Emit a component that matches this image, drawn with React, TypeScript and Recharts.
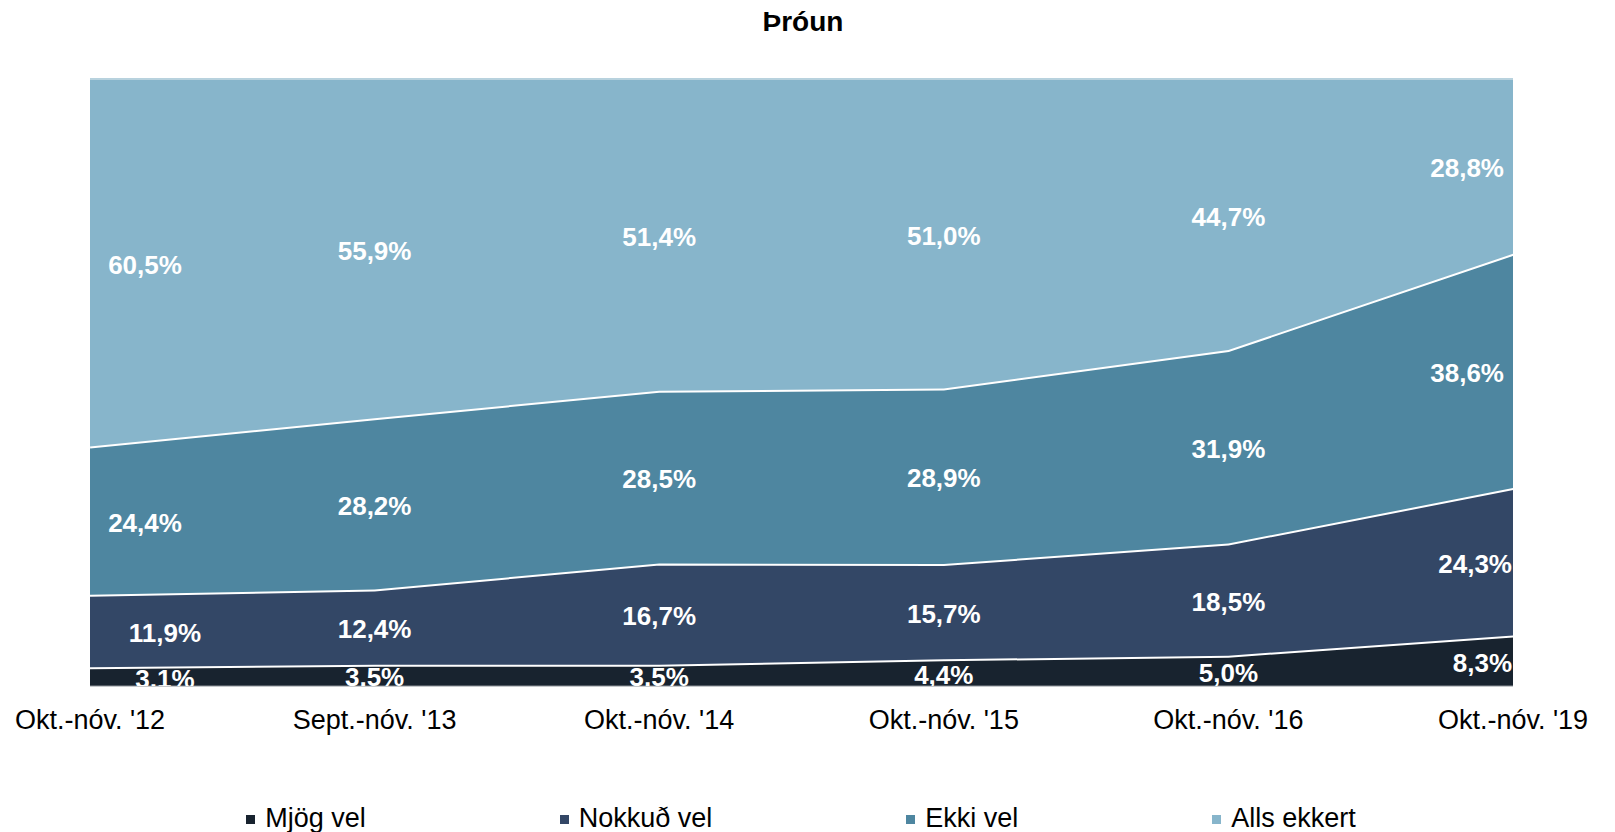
import { AreaChart, Area, XAxis, YAxis } from 'recharts';

// periods and shares (%) per answer
const periods = ["Okt.-nóv. '12", "Sept.-nóv. '13", "Okt.-nóv. '14", "Okt.-nóv. '15", "Okt.-nóv. '16", "Okt.-nóv. '19"];
const mjogVel = [3.1, 3.5, 3.5, 4.4, 5.0, 8.3];
const nokkudVel = [11.9, 12.4, 16.7, 15.7, 18.5, 24.3];
const ekkiVel = [24.4, 28.2, 28.5, 28.9, 31.9, 38.6];
const allsEkkert = [60.5, 55.9, 51.4, 51.0, 44.7, 28.8];

const seriesNames = ['Mjög vel', 'Nokkuð vel', 'Ekki vel', 'Alls ekkert'];
const seriesColors = ['#18232F', '#334766', '#4E86A0', '#87B5CB'];
const seriesValues = [mjogVel, nokkudVel, ekkiVel, allsEkkert];
const seriesKeys = ['mjog', 'nokkud', 'ekki', 'alls'];

const data = periods.map((p, i) => ({
  period: p,
  mjog: mjogVel[i],
  nokkud: nokkudVel[i],
  ekki: ekkiVel[i],
  alls: allsEkkert[i],
}));

const W = 1615;
const H = 832;
const PLOT = { left: 90, top: 79, right: 1513, bottom: 686 };
const PLOT_H = PLOT.bottom - PLOT.top;
const AXIS_H = 40;
const FONT = '"Liberation Sans", Arial, sans-serif';

const fmt = (v: number) => v.toFixed(1).replace('.', ',') + '%';

const totalAt = (i: number) => seriesValues.reduce((s, arr) => s + arr[i], 0);

function makeLabel(s: number) {
  return (props: any) => {
    const index: number = props.index;
    const x: number = props.x ?? props.viewBox?.x;
    const y: number = props.y ?? props.viewBox?.y;
    if (x == null || y == null || index == null) return null;
    const v = seriesValues[s][index];
    const h = (v / totalAt(index)) * PLOT_H;
    const upper = s >= 2;
    let lx = x;
    let anchor: 'start' | 'middle' | 'end' = 'middle';
    if (index === 0) lx = x + (upper ? 55 : 75);
    else if (index === periods.length - 1) {
      lx = x - (upper ? 9 : 1);
      anchor = 'end';
    }
    return (
      <g clipPath="url(#plotClip)">
        <text
          x={lx}
          y={y + h / 2 + 2}
          textAnchor={anchor}
          dominantBaseline="central"
          fill="#fff"
          fontSize={26}
          fontWeight="bold"
          fontFamily={FONT}
        >
          {fmt(v)}
        </text>
      </g>
    );
  };
}

const Tick = (props: any) => {
  const { x, payload } = props;
  return (
    <text x={x} y={729} textAnchor="middle" fontSize={27} fontFamily={FONT} fill="#000">
      {payload.value}
    </text>
  );
};

export default function App() {
  return (
    <div style={{ position: 'relative', width: W, height: H, fontFamily: FONT }}>
      <style>{'body{margin:0}'}</style>
      <svg width={0} height={0} style={{ position: 'absolute' }}>
        <defs>
          <clipPath id="plotClip">
            <rect x={PLOT.left} y={PLOT.top} width={PLOT.right - PLOT.left} height={PLOT_H} />
          </clipPath>
        </defs>
      </svg>

      <div
        style={{
          position: 'absolute', top: 8, left: 0, width: 1606, textAlign: 'center',
          fontSize: 28, lineHeight: '28px', fontWeight: 'bold', color: '#000',
        }}
      >
        Þróun
      </div>

      <AreaChart
        width={W}
        height={H}
        data={data}
        stackOffset="expand"
        margin={{ top: PLOT.top, left: PLOT.left, right: W - PLOT.right, bottom: H - PLOT.bottom - AXIS_H }}
      >
        <XAxis
          dataKey="period"
          height={AXIS_H}
          interval={0}
          tickLine={false}
          axisLine={{ stroke: '#8C9298', strokeWidth: 1 }}
          tick={<Tick />}
          padding={{ left: 0, right: 0 }}
        />
        <YAxis hide domain={[0, 1]} />
        {seriesKeys.map((k, s) => (
          <Area
            key={k}
            dataKey={k}
            name={seriesNames[s]}
            stackId="1"
            type="linear"
            fill={seriesColors[s]}
            fillOpacity={1}
            stroke={s === 3 ? '#B8D2DE' : '#FFFFFF'}
            strokeWidth={s === 3 ? 2 : 4}
            isAnimationActive={false}
            dot={false}
            activeDot={false}
            label={makeLabel(s)}
          />
        ))}
      </AreaChart>

      <div
        style={{
          position: 'absolute', top: 805, left: 0, width: 1602,
          display: 'flex', justifyContent: 'center', gap: 194,
          fontSize: 27, lineHeight: '27px', color: '#000',
        }}
      >
        {seriesNames.map((n, s) => (
          <div key={n} style={{ display: 'flex', alignItems: 'center' }}>
            <span style={{ width: 9, height: 9, background: seriesColors[s], marginRight: 10, marginTop: 2 }} />
            <span>{n}</span>
          </div>
        ))}
      </div>
    </div>
  );
}
